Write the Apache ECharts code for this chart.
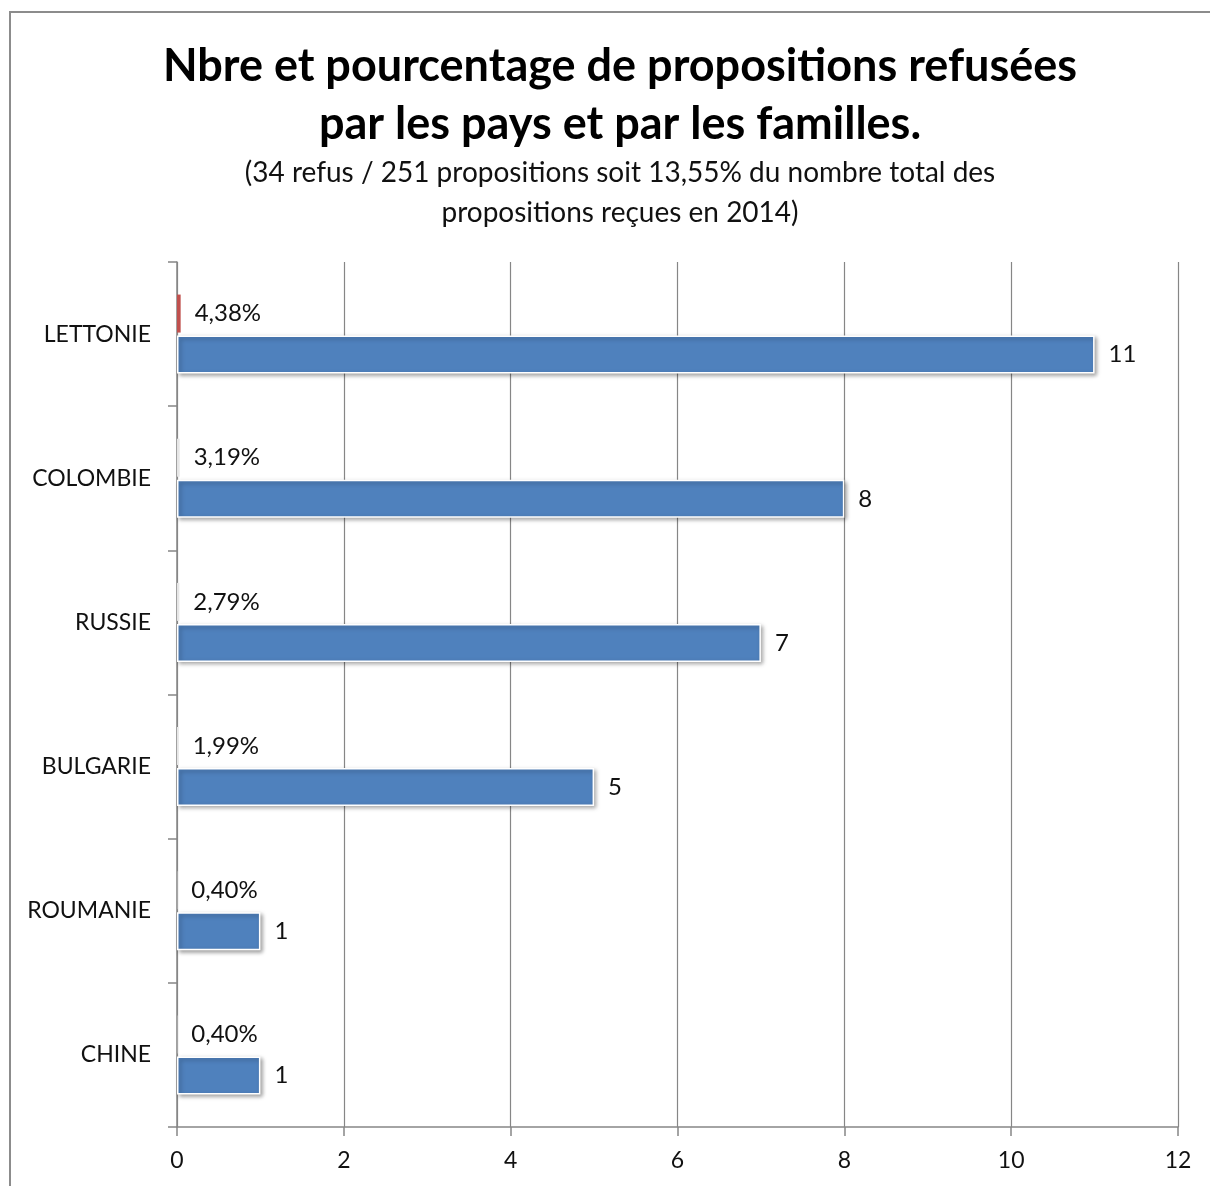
<!DOCTYPE html>
<html>
<head>
<meta charset="utf-8">
<script src="https://cdn.jsdelivr.net/npm/echarts@6/dist/echarts.min.js"></script>
<style>
  html, body { margin: 0; padding: 0; background: #fff; }
  #chart { width: 1210px; height: 1186px; }
</style>
</head>
<body>
<div id="chart"></div>
<script>
// data
const pays = ['LETTONIE', 'COLOMBIE', 'RUSSIE', 'BULGARIE', 'ROUMANIE', 'CHINE']
const nbRefus = [11, 8, 7, 5, 1, 1]
const pctRefus = [0.0438, 0.0319, 0.0279, 0.0199, 0.0040, 0.0040]
const xTicks = [0, 2, 4, 6, 8, 10, 12]

const font = 'Lato, "Open Sans", sans-serif'

const chart = echarts.init(document.getElementById('chart'))

chart.setOption({
  animation: false,
  textStyle: { fontFamily: font },
  title: {
    text: 'Nbre et pourcentage de propositions refusées\npar les pays et par les familles.',
    subtext: '(34 refus / 251 propositions soit 13,55% du nombre total des\npropositions reçues en 2014)',
    left: 615,
    textAlign: 'center',
    top: 32,
    itemGap: 0,
    textStyle: {
      fontFamily: font,
      fontSize: 45,
      fontWeight: 'bold',
      color: '#000',
      lineHeight: 58
    },
    subtextStyle: {
      fontFamily: font,
      fontSize: 28,
      color: '#111',
      lineHeight: 40
    }
  },
  graphic: [{
    type: 'rect',
    shape: { x: 10, y: 12, width: 1220, height: 1200 },
    style: { fill: 'none', stroke: '#8c8c8c', lineWidth: 2 },
    silent: true
  }],
  grid: {
    left: 177,
    right: 32,
    top: 262,
    bottom: 59
  },
  xAxis: {
    type: 'value',
    min: 0,
    max: 12,
    interval: 2,
    axisLine: { show: true, lineStyle: { color: '#868686', width: 1.5 } },
    axisTick: { show: true, length: 9, lineStyle: { color: '#868686', width: 1.5 } },
    splitLine: { show: true, lineStyle: { color: '#868686', width: 1.2 } },
    axisLabel: {
      fontSize: 23,
      color: '#111',
      margin: 22,
      formatter: v => xTicks.includes(v) ? String(v) : ''
    }
  },
  yAxis: {
    type: 'category',
    inverse: true,
    data: pays,
    axisLine: { show: true, lineStyle: { color: '#868686', width: 1.5 } },
    axisTick: { show: true, length: 9, lineStyle: { color: '#868686', width: 1.5 } },
    axisLabel: { fontSize: 23, color: '#111', margin: 26 }
  },
  series: [{
    name: 'Pourcentage',
    type: 'bar',
    data: pctRefus.map((v, i) => ({
      value: v,
      itemStyle: i === 0 ? { color: '#C0504D' } : { color: '#e6e6e6' }
    })),
    barWidth: 38,
    barGap: '8%',
    label: {
      show: true,
      position: 'right',
      distance: 14,
      fontSize: 24,
      color: '#111',
      formatter: p => (p.value * 100).toFixed(2).replace('.', ',') + '%'
    }
  }, {
    name: 'Nombre',
    type: 'bar',
    data: nbRefus,
    barWidth: 38,
    itemStyle: {
      color: '#4F81BD',
      borderColor: '#fff',
      borderWidth: 1.5,
      shadowColor: 'rgba(0,0,0,0.35)',
      shadowBlur: 4,
      shadowOffsetX: 2,
      shadowOffsetY: 2
    },
    label: {
      show: true,
      position: 'right',
      distance: 14,
      fontSize: 24,
      color: '#111'
    }
  }]
})
</script>
</body>
</html>
